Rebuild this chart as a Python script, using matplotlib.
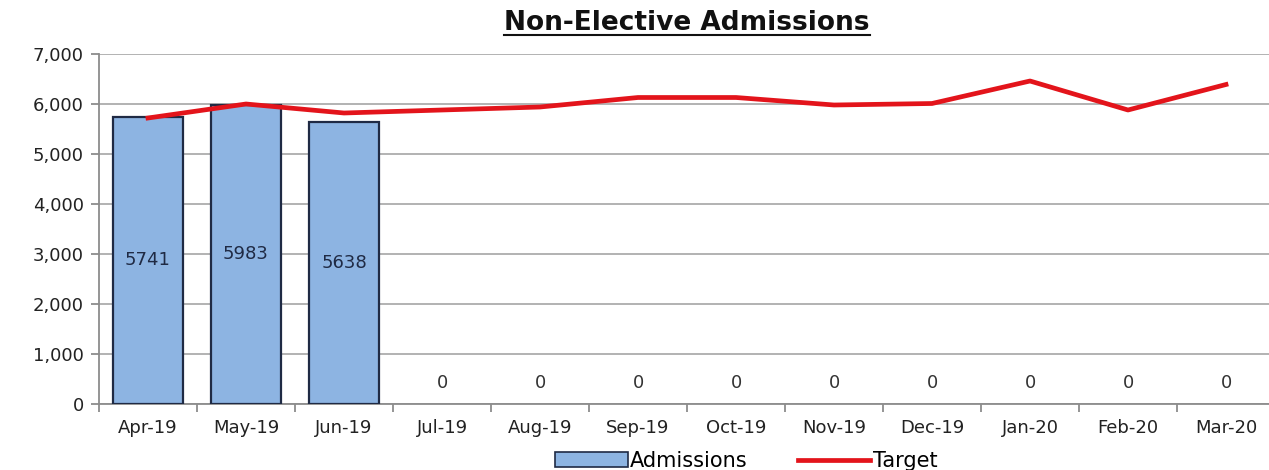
import numpy as np
import matplotlib
matplotlib.use('Agg')
import matplotlib.pyplot as plt
from matplotlib.lines import Line2D
from matplotlib.patches import Patch

plt.rcParams['font.family'] = ['DejaVu Sans']

months = ['Apr-19', 'May-19', 'Jun-19', 'Jul-19', 'Aug-19', 'Sep-19',
          'Oct-19', 'Nov-19', 'Dec-19', 'Jan-20', 'Feb-20', 'Mar-20']
admissions = [5741, 5983, 5638, 0, 0, 0, 0, 0, 0, 0, 0, 0]
target = [5720, 6000, 5820, 5880, 5940, 6130, 6130, 5980, 6010, 6460, 5880, 6390]

W, H = 1269, 470
fig = plt.figure(figsize=(W / 100, H / 100), dpi=100)
ax = fig.add_axes([99 / W, 66 / H, 1176 / W, 350 / H])

x = np.arange(len(months))

# barras (las de valor cero no tienen borde visible)
bordes = ['#1F2A44' if v > 0 else 'none' for v in admissions]
ax.bar(x, admissions, width=0.71, color='#8DB4E2', edgecolor=bordes, linewidth=1.6, zorder=3)
# linea objetivo
ax.plot(x, target, color='#E3141B', linewidth=3.4, zorder=4)

# etiquetas de datos
for xi, v in zip(x, admissions):
    if v > 0:
        ax.text(xi, v / 2, str(v), ha='center', va='center', fontsize=13, color='#1F2A44', zorder=5)
    else:
        ax.text(xi, 420, str(v), ha='center', va='center', fontsize=13, color='#333333', zorder=5)

ax.set_xlim(-0.5, 11.5)
ax.set_ylim(0, 7000)
ax.set_yticks(np.arange(0, 7001, 1000))
ax.set_yticklabels([f'{v:,}' for v in range(0, 7001, 1000)])
ax.set_xticks(x)
ax.set_xticklabels(months)
ax.set_xticks(np.arange(-0.5, 12, 1), minor=True)

ax.grid(axis='y', color='#A6A6A6', linewidth=1.2, zorder=0)
ax.set_axisbelow(True)
for s in ['top', 'right']:
    ax.spines[s].set_visible(False)
for s in ['left', 'bottom']:
    ax.spines[s].set_color('#8C8C8C')
    ax.spines[s].set_linewidth(1.3)

ax.tick_params(axis='x', which='major', length=0, pad=11, labelsize=13, colors='#222222')
ax.tick_params(axis='x', which='minor', length=6, direction='out', color='#8C8C8C', width=1.3)
ax.tick_params(axis='y', length=6, direction='out', color='#8C8C8C', width=1.3, pad=5,
               labelsize=13, labelcolor='#222222')

# leyenda
handles = [Patch(facecolor='#8DB4E2', edgecolor='#1F2A44', linewidth=1.2),
           Line2D([0], [0], color='#E3141B', linewidth=3.4)]
fig.legend(handles, ['Admissions', 'Target'], loc='center', bbox_to_anchor=(746 / W, 1 - 461 / H),
           ncol=2, frameon=False, fontsize=15, handlelength=3.5, handleheight=0.7,
           handletextpad=0.1, columnspacing=2.4)

# titulo subrayado
t = fig.text(687 / W, 1 - 23 / H, 'Non-Elective Admissions', ha='center', va='center',
             fontsize=19, fontweight='bold', color='#111111')
fig.canvas.draw()
bb = t.get_window_extent()
yline = (bb.y0 + 1) / H
fig.add_artist(Line2D([bb.x0 / W, bb.x1 / W], [yline, yline], color='#111111', linewidth=1.5))

fig.savefig('out.png', dpi=100)
